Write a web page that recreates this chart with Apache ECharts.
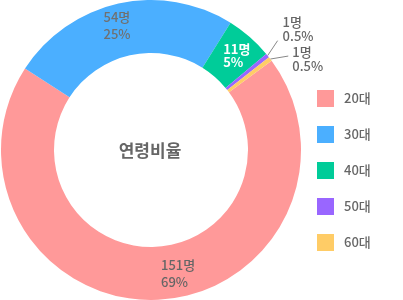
<!DOCTYPE html>
<html>
<head>
<meta charset="utf-8">
<script src="https://cdn.jsdelivr.net/npm/echarts@6/dist/echarts.min.js"></script>
<style>
html,body{margin:0;padding:0;background:#fff;}
#main{width:403px;height:300px;}
</style>
</head>
<body>
<div id="main"></div>
<script>
const categories = ['20대', '30대', '40대', '50대', '60대'];
const counts = [151, 54, 11, 1, 1];
const colors = ['#FF9999', '#4BAFFF', '#00CC99', '#9966FF', '#FFCC66'];
const centerTitle = '연령비율';

const FONT = '"Noto Sans CJK KR", "Noto Sans", sans-serif';

const labelOffsets = [[23, -3], [-6, -1], [0, 1], [0, 0], [0, 0]];
const labelColors = ['#666', '#707070', '#fff', '#666', '#666'];
const labelWidths = [34, 28, 22, 28, 28];
const labelLineHeights = [17, 17, 13, 14, 14];
const outsideIdx = [3, 4];
const outsideTarget = {3: {dx: 15, dy: -41, lx: 10, ly: -15}, 4: {dx: 22, dy: -14, lx: 18, ly: -3}};

const data = categories.map((c, i) => {
  const item = {
    name: c,
    value: counts[i],
    itemStyle: {color: colors[i]},
    label: {
      color: labelColors[i],
      offset: labelOffsets[i],
      lineHeight: labelLineHeights[i],
      rich: {t: {width: labelWidths[i], align: 'left', color: labelColors[i], fontSize: 13,
                 lineHeight: labelLineHeights[i], fontFamily: FONT, fontWeight: i === 2 ? 'bold' : 500}}
    }
  };
  if (outsideIdx.includes(i)) {
    item.label.position = 'outside';
    item.labelLine = {show: true, length: 8, length2: 0, lineStyle: {color: '#888', width: 1}};
  }
  return item;
});

const chart = echarts.init(document.getElementById('main'));
chart.setOption({
  animation: false,
  textStyle: {fontFamily: FONT},
  legend: {
    orient: 'vertical',
    left: 317,
    top: 90,
    padding: 0,
    itemWidth: 17,
    itemHeight: 17,
    itemGap: 19,
    icon: 'rect',
    textStyle: {fontFamily: FONT, fontSize: 13, fontWeight: 500, color: '#666', padding: [0, 0, 0, 5]},
    data: categories
  },
  graphic: [{
    type: 'text',
    x: 150,
    y: 151,
    style: {
      text: centerTitle,
      align: 'center',
      verticalAlign: 'middle',
      font: 'bold 17px "Noto Sans CJK KR", sans-serif',
      fill: '#666'
    }
  }],
  series: [{
    type: 'pie',
    center: [151, 150],
    radius: [97, 150],
    startAngle: 36.5,
    clockwise: true,
    avoidLabelOverlap: false,
    label: {
      show: true,
      position: 'inside',
      fontFamily: FONT,
      fontSize: 13,
      formatter: function (p) {
        const pct = p.percent < 1 ? p.percent.toFixed(1) : Math.round(p.percent);
        return '{t|' + p.value + '명}\n{t|' + pct + '%}';
      }
    },
    labelLine: {show: false},
    labelLayout: function (params) {
      const t = outsideTarget[params.dataIndex];
      if (!t || !params.labelLinePoints) return {};
      const p0 = params.labelLinePoints[0];
      return {
        x: p0[0] + t.dx,
        y: p0[1] + t.dy,
        align: 'left',
        verticalAlign: 'top',
        labelLinePoints: [p0, [p0[0] + t.lx, p0[1] + t.ly], [p0[0] + t.lx, p0[1] + t.ly]]
      };
    },
    data: data
  }]
});
</script>
</body>
</html>
